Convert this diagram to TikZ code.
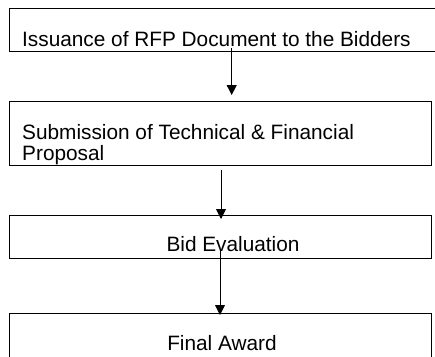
\documentclass[tikz,border=0pt]{standalone}
\usepackage{fontspec}
\setmainfont{Liberation Sans}
\usetikzlibrary{arrows.meta}
\tikzset{
  box/.style={draw=black, line width=1.3pt, fill=none, rectangle, inner sep=0pt, anchor=north west},
  label/.style={inner sep=0pt, font=\fontsize{20.8}{20.7}\selectfont},
  flow/.style={draw=black, line width=0.9pt, -{Triangle[length=10pt,width=10pt]}}
}
\begin{document}
\begin{tikzpicture}[x=1pt,y=-1pt]
\useasboundingbox (0,0) rectangle (435,356);
\clip (0,0) rectangle (435,356);
% boxes
\node[box, minimum width=440pt, minimum height=43pt] (b1) at (9,8) {};
\node[box, minimum width=422pt, minimum height=64pt] (b2) at (9,101) {};
\node[box, minimum width=422pt, minimum height=43pt] (b3) at (9,215) {};
\node[box, minimum width=422pt, minimum height=60pt] (b4) at (9,313) {};
% texts
\node[label, anchor=base west] (t1) at (22,46.7) {Issuance of RFP Document to the Bidders};
\node[label, anchor=base west, align=left] (t2) at (22,160) {Submission of Technical \& Financial\\Proposal};
\node[label, anchor=base] (t3) at (233,251) {Bid Evaluation};
\node[label, anchor=base] (t4) at (222,350) {Final Award};
% connector ends
\coordinate (a1s) at (231.7,48);
\coordinate (a1e) at (231.7,95);
\coordinate (a2s) at (221,170);
\coordinate (a2e) at (221,219);
\coordinate (a3s) at (220,250);
\coordinate (a3e) at (220,315);
\draw[flow] (a1s) -- (a1e);
\draw[flow] (a2s) -- (a2e);
\draw[flow] (a3s) -- (a3e);
\end{tikzpicture}
\end{document}
